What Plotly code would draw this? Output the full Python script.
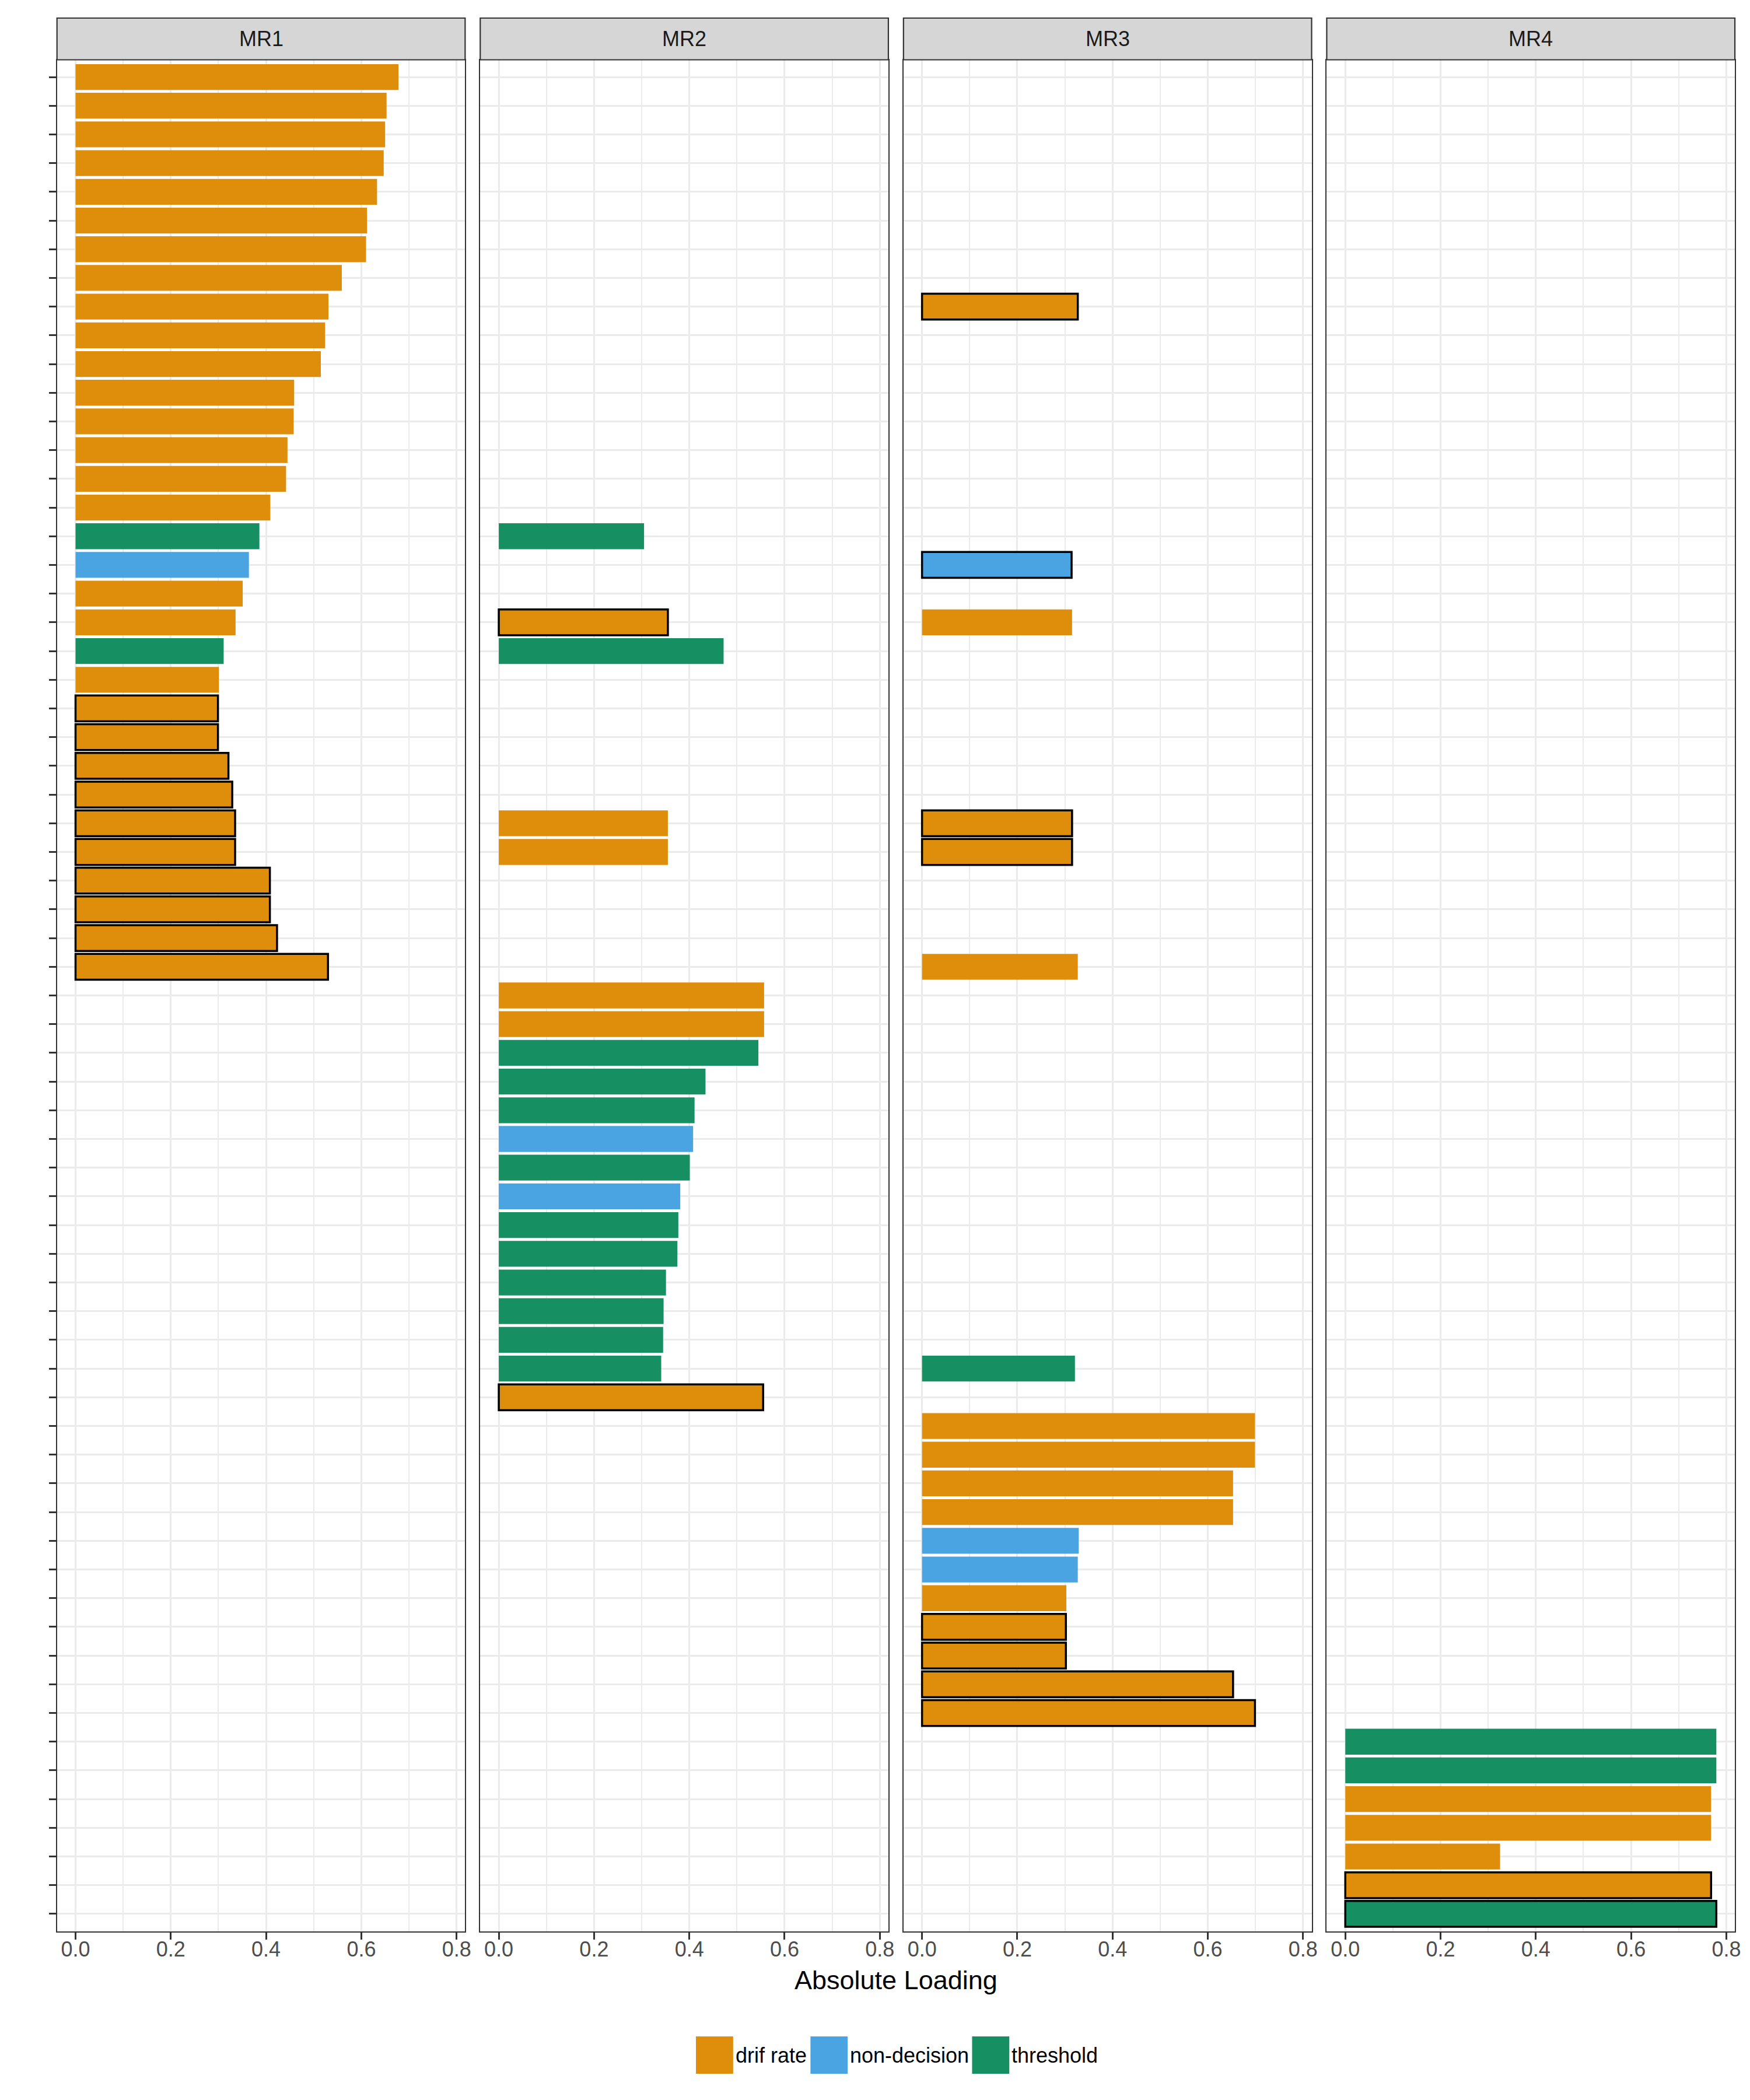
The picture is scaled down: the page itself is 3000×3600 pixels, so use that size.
import plotly.graph_objects as go

# ---------------- data ----------------
D, T, N = "drif rate", "threshold", "non-decision"

items = [f"V{i + 1:02d}" for i in range(65)]

param_type = [
    D, D, D, D, D, D, D, D, D, D,
    D, D, D, D, D, D, T, N, D, D,
    T, D, D, D, D, D, D, D, D, D,
    D, D, D, D, T, T, T, N, T, N,
    T, T, T, T, T, T, D, D, D, D,
    D, N, N, D, D, D, D, D, T, T,
    D, D, D, D, T,
]

# signed loadings (negative loadings are drawn outlined); None = not shown
mr1 = [
    0.678, 0.653, 0.650, 0.647, 0.633, 0.612, 0.610, 0.559, 0.531, 0.524,
    0.515, 0.459, 0.458, 0.445, 0.442, 0.409, 0.386, 0.364, 0.351, 0.336,
    0.311, 0.301, -0.299, -0.299, -0.321, -0.329, -0.335, -0.335, -0.408, -0.408,
    -0.423, -0.530, None, None, None, None, None, None, None, None,
    None, None, None, None, None, None, None, None, None, None,
    None, None, None, None, None, None, None, None, None, None,
    None, None, None, None, None,
]
mr2 = [
    None, None, None, None, None, None, None, None, None, None,
    None, None, None, None, None, None, 0.305, None, None, -0.355,
    0.472, None, None, None, None, None, 0.355, 0.355, None, None,
    None, None, 0.557, 0.557, 0.545, 0.434, 0.411, 0.408, 0.401, 0.381,
    0.377, 0.375, 0.351, 0.346, 0.345, 0.341, -0.555, None, None, None,
    None, None, None, None, None, None, None, None, None, None,
    None, None, None, None, None,
]
mr3 = [
    None, None, None, None, None, None, None, None, -0.327, None,
    None, None, None, None, None, None, None, -0.314, None, 0.315,
    None, None, None, None, None, None, -0.315, -0.315, None, None,
    None, 0.327, None, None, None, None, None, None, None, None,
    None, None, None, None, None, 0.321, None, 0.699, 0.699, 0.653,
    0.653, 0.329, 0.327, 0.303, -0.302, -0.302, -0.653, -0.699, None, None,
    None, None, None, None, None,
]
mr4 = [
    None, None, None, None, None, None, None, None, None, None,
    None, None, None, None, None, None, None, None, None, None,
    None, None, None, None, None, None, None, None, None, None,
    None, None, None, None, None, None, None, None, None, None,
    None, None, None, None, None, None, None, None, None, None,
    None, None, None, None, None, None, None, None, 0.779, 0.779,
    0.768, 0.768, 0.325, -0.768, -0.779,
]

facet_names = ["MR1", "MR2", "MR3", "MR4"]
facet_values = [mr1, mr2, mr3, mr4]

legend_labels = [D, N, T]
colors = {D: "#DE8E0B", N: "#49A4E1", T: "#168F63"}

# ---------------- layout constants (pixels) ----------------
W, H = 3000, 3600
panel_left, panel_w, panel_gap = 90, 702, 26
panel_top, panel_bottom = 94.5, 3302.5
strip_top = 23
FONT = "Liberation Sans, Arial, Helvetica, sans-serif"
GRID = "#EBEBEB"
DARK = "#333333"


def px_x(x):
    return x / W


def px_y(y):
    return (H - y) / H


all_abs = [abs(v) for vals in facet_values for v in vals if v is not None]
vmax = max(all_abs)
x_range = [-0.05 * vmax, 1.05 * vmax]
n_items = len(items)
y_range = [n_items - 1 + 0.6, -0.6]

fig = go.Figure()
layout = dict(
    width=W, height=H, autosize=False,
    margin=dict(l=0, r=0, t=0, b=0),
    paper_bgcolor="white", plot_bgcolor="white",
    font=dict(family=FONT, color="black"),
    showlegend=False,
    bargap=0.1,
)
shapes, annotations = [], []

for k, (name, vals) in enumerate(zip(facet_names, facet_values)):
    xa = "x" if k == 0 else f"x{k + 1}"
    ya = "y" if k == 0 else f"y{k + 1}"
    xs, ys, cols, lws = [], [], [], []
    for it, pt, v in zip(items, param_type, vals):
        if v is None:
            continue
        xs.append(abs(v))
        ys.append(it)
        cols.append(colors[pt])
        lws.append(3.5 if v < 0 else 0)
    fig.add_trace(go.Bar(
        x=xs, y=ys, orientation="h", width=0.9,
        marker=dict(color=cols, line=dict(color="black", width=lws)),
        xaxis=xa, yaxis=ya, showlegend=False,
    ))
    x0 = panel_left + k * (panel_w + panel_gap)
    x1 = x0 + panel_w
    xkey = "xaxis" if k == 0 else f"xaxis{k + 1}"
    ykey = "yaxis" if k == 0 else f"yaxis{k + 1}"
    layout[xkey] = dict(
        domain=[px_x(x0), px_x(x1)], anchor=ya, range=x_range,
        tickmode="linear", tick0=0, dtick=0.2, tickformat=".1f",
        showgrid=True, gridcolor=GRID, gridwidth=3.2, zeroline=False,
        minor=dict(tick0=0, dtick=0.1, showgrid=True, gridcolor=GRID,
                   gridwidth=2, ticks=""),
        showline=True, mirror=True, linecolor=DARK, linewidth=2.2,
        ticks="outside", ticklen=12, tickwidth=2.8, tickcolor=DARK,
        ticklabelstandoff=-14,
        tickfont=dict(size=36, color="#4D4D4D", family=FONT),
        fixedrange=True,
    )
    layout[ykey] = dict(
        domain=[px_y(panel_bottom), px_y(panel_top)], anchor=xa,
        type="category", categoryorder="array", categoryarray=items,
        range=y_range, showticklabels=False,
        showgrid=True, gridcolor=GRID, gridwidth=3.2, zeroline=False,
        showline=True, mirror=True, linecolor=DARK, linewidth=2.2,
        ticks="outside" if k == 0 else "", ticklen=12, tickwidth=2.8,
        tickcolor=DARK, fixedrange=True,
    )
    # facet strip
    shapes.append(dict(
        type="rect", xref="paper", yref="paper",
        x0=px_x(x0), x1=px_x(x1), y0=px_y(panel_top), y1=px_y(strip_top),
        fillcolor="#D6D6D6", line=dict(color=DARK, width=2.2), layer="above",
    ))
    annotations.append(dict(
        text=name, xref="paper", yref="paper",
        x=px_x((x0 + x1) / 2), y=px_y((strip_top + panel_top) / 2),
        xanchor="center", yanchor="middle", showarrow=False,
        font=dict(size=36, color="#1A1A1A", family=FONT),
    ))

# x-axis title across facets
full_left = panel_left
full_right = panel_left + 4 * panel_w + 3 * panel_gap
annotations.append(dict(
    text="Absolute Loading", xref="paper", yref="paper",
    x=px_x((full_left + full_right) / 2), y=px_y(3386),
    xanchor="center", yanchor="middle", showarrow=False,
    font=dict(size=45, color="black", family=FONT),
))

# legend (keys + labels), drawn bottom-centre
key_size = 64
legend_cy = 3515
key_x = [1189, 1386, 1664]
for lab, kx in zip(legend_labels, key_x):
    shapes.append(dict(
        type="rect", xref="paper", yref="paper",
        x0=px_x(kx), x1=px_x(kx + key_size),
        y0=px_y(legend_cy + key_size / 2), y1=px_y(legend_cy - key_size / 2),
        fillcolor=colors[lab], line=dict(width=0),
    ))
    annotations.append(dict(
        text=lab, xref="paper", yref="paper",
        x=px_x(kx + key_size + 2), y=px_y(legend_cy),
        xanchor="left", yanchor="middle", showarrow=False,
        font=dict(size=36, color="black", family=FONT),
    ))

layout["shapes"] = shapes
layout["annotations"] = annotations
fig.update_layout(**layout)

fig.write_html("out.html")
